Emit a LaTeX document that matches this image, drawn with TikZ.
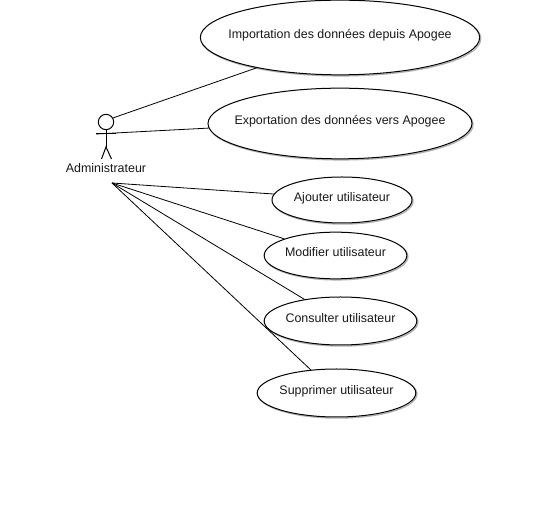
\documentclass[tikz,border=0pt]{standalone}
\usepackage{fontspec}
\setmainfont{Liberation Sans}
\usetikzlibrary{shapes.geometric}
\newcommand{\uctext}[1]{\makebox[0pt][c]{#1}}
\tikzset{
  x=0.75pt,y=-0.75pt,
  every node/.style={font=\fontsize{9.33}{11}\selectfont,text=black!90},
  usecase/.style={ellipse,draw=black,line width=0.75pt,fill=white,inner sep=0pt,
    text height=7pt,text depth=5.4pt,
    preaction={draw=black!30,line width=1pt,fill=none,transform canvas={xshift=0.8pt,yshift=-0.8pt}}},
  link/.style={draw=black,line width=0.6pt},
  stick/.style={draw=black,line width=0.75pt}
}
\begin{document}
\begin{tikzpicture}
\useasboundingbox[fill=white] (0,0) rectangle (536,530);
\node[usecase,minimum width=209.5pt,minimum height=56pt] (e1) at (340,37.5) {\uctext{Importation des données depuis Apogee}};
\node[usecase,minimum width=198pt,minimum height=53pt] (e2) at (340,123.5) {\uctext{Exportation des données vers Apogee}};
\node[usecase,minimum width=105pt,minimum height=34.5pt] (e3) at (342,200) {\uctext{Ajouter utilisateur}};
\node[usecase,minimum width=107pt,minimum height=35pt] (e4) at (335.5,255.5) {\uctext{Modifier utilisateur}};
\node[usecase,minimum width=114.5pt,minimum height=36pt] (e5) at (340.5,321) {\uctext{Consulter utilisateur}};
\node[usecase,minimum width=119pt,minimum height=36pt] (e6) at (336.5,393) {\uctext{Supprimer utilisateur}};
% actor
\node[circle,draw=black,line width=0.75pt,inner sep=0pt,minimum size=11.5pt] (head) at (106,122) {};
\coordinate (armL) at (96,134);
\coordinate (armR) at (116,134);
\coordinate (hip) at (106,147);
\coordinate (footL) at (101.5,159);
\coordinate (footR) at (111.5,159);
\draw[stick] (head.south) -- (hip);
\draw[stick] (armL) -- (armR);
\draw[stick] (footL) -- (hip) -- (footR);
\node (admin) at (106,168) {Administrateur};
\coordinate (origin) at (112,183);
% connectors
\draw[link] (head.30) -- (e1.200);
\draw[link] (armL) -- (e2.182.5);
\draw[link] (origin) -- (e3.175);
\draw[link] (origin) -- (e4.162);
\draw[link] (origin) -- (e5.149);
\draw[link] (origin) -- (e6.138);
\end{tikzpicture}
\end{document}
